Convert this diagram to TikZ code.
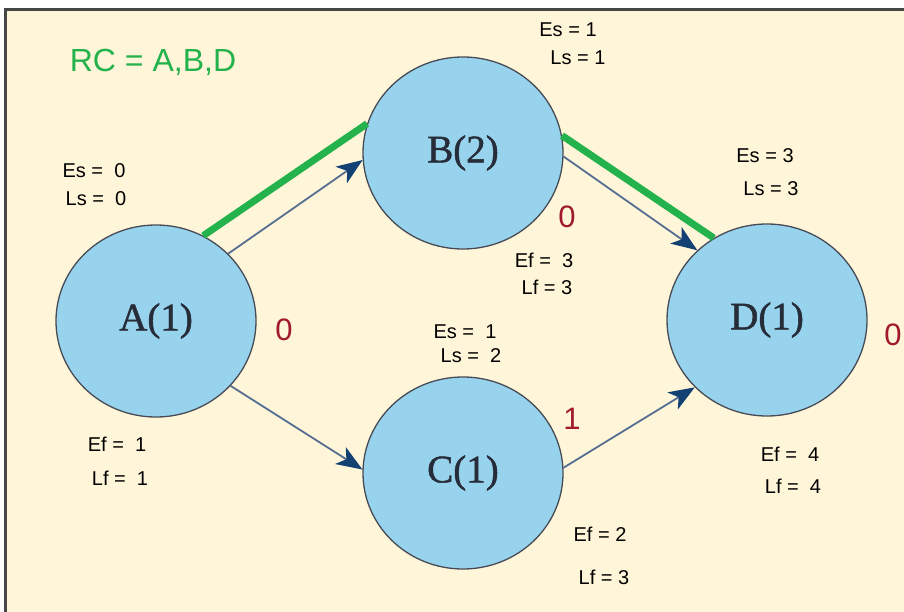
\documentclass[tikz,border=0pt]{standalone}
\usepackage{fontspec}
\setmainfont{Liberation Sans}
\newfontfamily\serifnode[FakeBold=1.2]{Liberation Serif}
\usetikzlibrary{arrows.meta,shapes.geometric}
\definecolor{bg}{RGB}{255,246,217}
\definecolor{nodefill}{RGB}{152,211,238}
\definecolor{nodeedge}{RGB}{70,75,85}
\definecolor{arrowc}{RGB}{85,110,145}
\definecolor{tipc}{RGB}{20,65,115}
\definecolor{cpgreen}{RGB}{35,178,75}
\definecolor{slackred}{RGB}{160,25,45}
\definecolor{framec}{RGB}{70,70,70}
\definecolor{labtext}{RGB}{38,44,56}
\begin{document}
\begin{tikzpicture}[x=1pt,y=-1pt,
 event/.style={ellipse, draw=nodeedge, line width=1.3pt, fill=nodefill, minimum width=200pt, minimum height=192pt, inner sep=0pt, font=\serifnode\fontsize{39}{39}\selectfont, text=labtext},
 info/.style={font=\fontsize{20}{20}\selectfont, text=black, inner sep=0pt},
 slack/.style={font=\fontsize{31}{31}\selectfont, text=slackred, inner sep=0pt},
 dep/.style={draw=arrowc, line width=1.8pt, -{Stealth[length=26pt,width=20pt,inset=7pt,color=tipc]}},
 crit/.style={draw=cpgreen, line width=7pt}]
\useasboundingbox (0,0) rectangle (904,612);
\fill[bg] (0,0) rectangle (904,612);
\fill[white] (0,0) rectangle (904,8.5);
\fill[white] (0,0) rectangle (3.5,612);
\draw[framec, line width=3pt] (5,612) -- (5,10) -- (904,10);

\node[event] (A) at (156,321) {A(1)};
\node[event] (B) at (463,153) {B(2)};
\node[event] (C) at (463,473) {C(1)};
\node[event] (D) at (767,320) {D(1)};

\draw[dep] (A.43) -- (B.184);
\draw[dep] (A.-41) -- (C.178);
\draw[dep] (B.-2) -- (D.135);
\draw[dep] (C.3) -- (D.223);

\draw[crit] (A.61) -- (B.163);
\draw[crit] (B.10) -- (D.123);

\node[font=\fontsize{32}{32}\selectfont, text=cpgreen, inner sep=0pt] (rc) at (153,62) {RC = A,B,D};

\node[info] (esA) at (94,171) {Es =\ \ 0};
\node[info] (lsA) at (96,199) {Ls =\ \ 0};
\node[info] (efA) at (117,444) {Ef =\ \ 1};
\node[info] (lfA) at (120,478) {Lf =\ \ 1};
\node[slack] (sA) at (284,330) {0};

\node[info] (esB) at (568,30) {Es = 1};
\node[info] (lsB) at (578,58) {Ls = 1};
\node[info] (efB) at (544,260) {Ef =\ \ 3};
\node[info] (lfB) at (547,287) {Lf = 3};
\node[slack] (sB) at (567,217) {0};

\node[info] (esC) at (465,332) {Es =\ \ 1};
\node[info] (lsC) at (471,356) {Ls =\ \ 2};
\node[info] (efC) at (600,534) {Ef = 2};
\node[info] (lfC) at (604,577) {Lf = 3};
\node[slack] (sC) at (572,419) {1};

\node[info] (esD) at (765,156) {Es = 3};
\node[info] (lsD) at (771,189) {Ls = 3};
\node[info] (efD) at (790,454) {Ef =\ \ 4};
\node[info] (lfD) at (793,486) {Lf =\ \ 4};
\node[slack] (sD) at (893,335) {0};
\end{tikzpicture}
\end{document}
